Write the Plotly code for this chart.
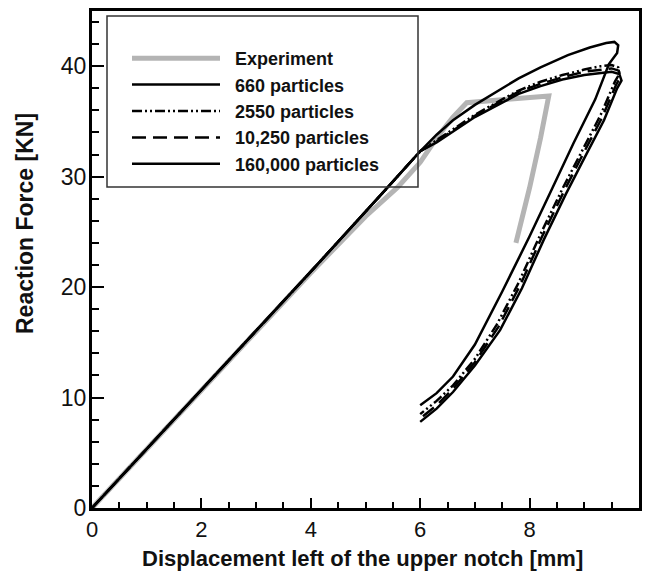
import plotly.graph_objects as go

# ---------------- data ----------------
exp_x = [0.0, 2.0, 4.0, 5.0, 5.58, 6.0, 6.3, 6.6, 6.85, 7.6, 8.35, 8.2, 8.0, 7.75]
exp_y = [0.0, 10.7, 21.3, 26.4, 29.0, 31.3, 33.5, 35.4, 36.7, 37.0, 37.3, 33.5, 29.0, 24.0]

p660_x = [0.0, 2.0, 4.0, 5.4, 6.0, 6.3, 6.6, 7.0, 7.5, 7.8, 8.2, 8.7, 9.1, 9.4, 9.55, 9.62, 9.6,
          9.45, 9.2, 8.8, 8.4, 8.0, 7.5, 7.0, 6.6, 6.3, 6.0]
p660_y = [0.0, 10.7, 21.4, 29.0, 32.3, 33.8, 35.1, 36.5, 38.0, 38.9, 39.9, 41.0, 41.7, 42.1, 42.2, 41.9, 41.2,
          40.2, 37.0, 33.0, 28.8, 24.6, 19.6, 14.8, 11.9, 10.4, 9.3]

p2550_x = [0.0, 2.0, 4.0, 5.4, 6.0, 6.3, 6.6, 7.0, 7.5, 7.8, 8.2, 8.6, 9.0, 9.3, 9.5, 9.62, 9.64,
           9.56, 9.3, 8.9, 8.6, 8.2, 7.8, 7.4, 7.0, 6.6, 6.3, 6.0]
p2550_y = [0.0, 10.7, 21.4, 29.0, 32.3, 33.3, 34.3, 35.6, 37.0, 37.8, 38.6, 39.2, 39.7, 40.0, 40.1, 39.9, 39.3,
           38.6, 35.6, 31.8, 28.9, 24.8, 20.4, 16.6, 13.5, 11.1, 9.7, 8.5]

p10250_x = [0.0, 2.0, 4.0, 5.4, 6.0, 6.3, 6.6, 7.0, 7.5, 7.8, 8.2, 8.6, 9.0, 9.3, 9.5, 9.63, 9.66,
            9.58, 9.33, 8.93, 8.63, 8.23, 7.83, 7.43, 7.0, 6.6, 6.3, 6.0]
p10250_y = [0.0, 10.7, 21.4, 29.0, 32.3, 33.2, 34.2, 35.5, 36.9, 37.7, 38.4, 39.0, 39.5, 39.7, 39.8, 39.6, 39.0,
            38.3, 35.4, 31.6, 28.7, 24.6, 20.2, 16.4, 13.2, 10.8, 9.3, 8.1]

p160k_x = [0.0, 2.0, 4.0, 5.4, 6.0, 6.3, 6.6, 7.0, 7.5, 7.8, 8.2, 8.6, 9.0, 9.3, 9.5, 9.64, 9.68,
           9.6, 9.36, 8.96, 8.66, 8.26, 7.86, 7.46, 7.0, 6.6, 6.3, 6.0]
p160k_y = [0.0, 10.7, 21.4, 29.0, 32.3, 33.1, 34.1, 35.4, 36.7, 37.5, 38.2, 38.8, 39.2, 39.4, 39.5, 39.3, 38.7,
           38.0, 35.1, 31.3, 28.4, 24.3, 19.9, 16.1, 12.9, 10.5, 9.0, 7.8]

x_ticks = [0, 2, 4, 6, 8, 10]
y_ticks = [0, 10, 20, 30, 40]

x_title = "Displacement left of the upper notch [mm]"
y_title = "Reaction Force [KN]"

FONT = "Liberation Sans, Arial, Helvetica, sans-serif"
PAD = "\u00a0\u00a0"

fig = go.Figure()
fig.add_trace(go.Scatter(x=exp_x, y=exp_y, mode="lines", name=PAD + "Experiment",
                         line=dict(color="#b4b4b4", width=5)))
fig.add_trace(go.Scatter(x=p660_x, y=p660_y, mode="lines", name=PAD + "660 particles",
                         line=dict(color="black", width=2.5)))
fig.add_trace(go.Scatter(x=p2550_x, y=p2550_y, mode="lines", name=PAD + "2550 particles",
                         line=dict(color="black", width=2.5, dash="10px,3px,2px,3px,2px,3px")))
fig.add_trace(go.Scatter(x=p10250_x, y=p10250_y, mode="lines", name=PAD + "10,250 particles",
                         line=dict(color="black", width=2.5, dash="14px,7px")))
fig.add_trace(go.Scatter(x=p160k_x, y=p160k_y, mode="lines", name=PAD + "160,000 particles",
                         line=dict(color="black", width=2.5)))

# legend frame
fig.add_shape(type="rect", xref="paper", yref="paper",
              x0=(107 - 92) / 547, x1=(418 - 92) / 547,
              y0=(508 - 187) / 497, y1=(508 - 16) / 497,
              line=dict(color="#333333", width=1.5), fillcolor="rgba(0,0,0,0)")

# axis titles
fig.add_annotation(text="<b>" + x_title + "</b>", xref="paper", yref="paper",
                   x=0.494, y=(508 - 558) / 497, xanchor="center", yanchor="middle",
                   showarrow=False, font=dict(family=FONT, size=22, color="#111"))
fig.add_annotation(text="<b>" + y_title + "</b>", xref="paper", yref="paper",
                   x=(25 - 92) / 547, y=(508 - 224) / 497, xanchor="center", yanchor="middle",
                   textangle=-90, showarrow=False, font=dict(family=FONT, size=23, color="#111"))

axis_common = dict(
    showline=True, linecolor="black", linewidth=3, mirror=True,
    ticks="inside", tickcolor="black", tickwidth=2,
    showgrid=False, zeroline=False, automargin=False,
)

fig.update_xaxes(range=[0, 10], tickvals=x_ticks, ticklen=10, ticklabelstandoff=0,
                 tickfont=dict(family=FONT, size=22, color="#111"),
                 minor=dict(dtick=0.5, ticks="inside", ticklen=6, tickwidth=1.5, tickcolor="black"),
                 **axis_common)
fig.update_yaxes(range=[0, 45], tickvals=y_ticks, ticklen=12, ticklabelstandoff=-2,
                 tickfont=dict(family=FONT, size=23, color="#111"),
                 minor=dict(dtick=2, ticks="inside", ticklen=7, tickwidth=1.5, tickcolor="black"),
                 **axis_common)

fig.update_layout(
    width=651, height=574,
    margin=dict(l=92, r=12, t=11, b=66),
    paper_bgcolor="white", plot_bgcolor="white",
    showlegend=True,
    legend=dict(x=(127 - 92) / 547, y=(508 - 40) / 497, xanchor="left", yanchor="top",
                bgcolor="rgba(0,0,0,0)", borderwidth=0, itemwidth=88,
                font=dict(family=FONT, size=18, color="#111", weight="bold"),
                tracegroupgap=0),
)

fig.write_html("out.html")
